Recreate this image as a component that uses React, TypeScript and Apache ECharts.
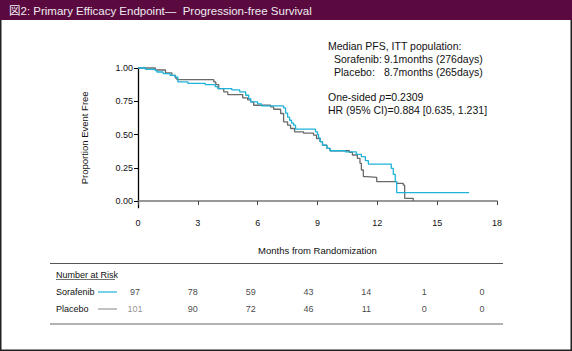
import React, { useEffect, useRef } from 'react';
import * as echarts from 'echarts';

const FONT = '"Liberation Sans", Arial, Helvetica, sans-serif';
const CJK = '"Liberation Sans", "Noto Sans CJK JP", Arial, sans-serif';

// Kaplan-Meier step points: [month, proportion event free] (value holds from that month on)
const sorafenibCurve: [number, number][] = [
  [0, 1.0], [0.37, 0.99], [0.87, 0.98], [0.95, 0.97], [1.26, 0.958], [1.6, 0.945],
  [1.85, 0.932], [2.0, 0.895], [2.5, 0.885], [3.37, 0.875], [3.87, 0.86], [4.0, 0.845],
  [4.7, 0.835], [5.1, 0.82], [5.4, 0.795], [5.55, 0.77], [5.65, 0.745], [6.0, 0.73],
  [6.2, 0.715], [7.3, 0.7], [7.4, 0.66], [7.5, 0.63], [7.6, 0.607], [7.7, 0.585],
  [7.8, 0.57], [7.9, 0.54], [8.9, 0.52], [9.0, 0.5], [9.05, 0.475], [9.13, 0.446],
  [9.25, 0.42], [9.47, 0.396], [9.63, 0.378], [10.4, 0.37], [10.95, 0.35], [11.2, 0.333],
  [11.4, 0.303], [11.55, 0.278], [12.7, 0.246], [12.8, 0.2], [12.9, 0.145], [12.97, 0.063],
  [16.6, 0.063],
];

const placeboCurve: [number, number][] = [
  [0, 1.0], [0.87, 0.985], [1.38, 0.963], [1.7, 0.945], [1.88, 0.925], [1.95, 0.912],
  [3.8, 0.895], [3.9, 0.875], [4.05, 0.845], [4.3, 0.82], [4.5, 0.8], [5.25, 0.775],
  [5.5, 0.76], [5.65, 0.745], [5.8, 0.72], [6.65, 0.707], [6.8, 0.69], [7.15, 0.658],
  [7.3, 0.595], [7.5, 0.57], [7.65, 0.545], [7.85, 0.52], [8.3, 0.51], [8.8, 0.496],
  [8.95, 0.47], [9.13, 0.446], [9.25, 0.42], [9.47, 0.396], [9.63, 0.378], [10.6, 0.366],
  [10.75, 0.346], [11.0, 0.32], [11.13, 0.283], [11.2, 0.233], [11.3, 0.183], [11.47, 0.178],
  [11.97, 0.145], [12.97, 0.133], [13.3, 0.12], [13.37, 0.02], [13.8, 0.0],
];

const yTickValues = [0, 0.25, 0.5, 0.75, 1.0];

const riskMonths = [0, 3, 6, 9, 12, 15, 18];
const riskGroups = ['Sorafenib', 'Placebo'];
const sorafenibAtRisk = [97, 78, 59, 43, 14, 1, 0];
const placeboAtRisk = [101, 90, 72, 46, 11, 0, 0];

const titleText = '図2: Primary Efficacy Endpoint—  Progression-free Survival';
const infoLines = {
  header: 'Median PFS, ITT population:',
  sorLabel: 'Sorafenib:',
  sorValue: '9.1months (276days)',
  plaLabel: 'Placebo:',
  plaValue: '8.7months (265days)',
  pValue: 'One-sided {i|p}=0.2309',
  hr: 'HR (95% CI)=0.884 [0.635, 1.231]',
};

const CYAN = '#1fb2da';
const GRAY = '#6a6a6a';

export default function App() {
  const ref = useRef<HTMLDivElement>(null);
  useEffect(() => {
    const chart = echarts.init(ref.current!, null, { renderer: 'svg' });
    const txt = (text: string, x: number, y: number, size: number, extra: any = {}) => ({
      type: 'text',
      x,
      y,
      silent: true,
      style: {
        text,
        fontSize: size,
        fontFamily: FONT,
        fill: '#111',
        align: 'left',
        verticalAlign: 'middle',
        ...extra,
      },
    });
    const atRiskData = (group: string, values: number[]) =>
      values.map((v, i) => {
        const item: any = { value: [riskMonths[i], group, v] };
        if (group === 'Placebo' && i === 0) item.label = { color: '#777' };
        return item;
      });

    const option: any = {
      animation: false,
      backgroundColor: '#fff',
      grid: [
        { left: 138, right: 75, top: 68, height: 139.65 },
        { left: 135, right: 90, top: 283.8, height: 34 },
      ],
      xAxis: [
        {
          gridIndex: 0,
          type: 'value',
          min: 0,
          max: 18,
          interval: 3,
          axisLine: { show: true, lineStyle: { color: '#777', width: 1.5 } },
          axisTick: { show: true, length: 4, lineStyle: { color: '#444', width: 1 } },
          axisLabel: { fontSize: 9, color: '#111', margin: 11, fontFamily: FONT },
          splitLine: { show: false },
          name: 'Months from Randomization',
          nameLocation: 'middle',
          nameGap: 38,
          nameTextStyle: { fontSize: 9.5, color: '#111', fontFamily: FONT },
        },
        { gridIndex: 1, type: 'value', min: 0, max: 18, show: false },
      ],
      yAxis: [
        {
          gridIndex: 0,
          type: 'value',
          min: -0.05,
          max: 1,
          axisLine: { show: true, lineStyle: { color: '#000', width: 1.3 } },
          axisTick: { show: true, length: 4, customValues: yTickValues, lineStyle: { color: '#000', width: 1 } },
          axisLabel: {
            customValues: yTickValues,
            formatter: (v: number) => v.toFixed(2),
            fontSize: 9,
            color: '#111',
            margin: 5,
            fontFamily: FONT,
          },
          splitLine: { show: false },
          name: 'Proportion Event Free',
          nameLocation: 'middle',
          nameGap: 49,
          nameTextStyle: { fontSize: 9.5, color: '#111', fontFamily: FONT },
        },
        { gridIndex: 1, type: 'category', data: riskGroups, inverse: true, show: false },
      ],
      series: [
        {
          name: 'Placebo',
          type: 'line',
          step: 'end',
          xAxisIndex: 0,
          yAxisIndex: 0,
          data: placeboCurve,
          symbol: 'none',
          clip: false,
          lineStyle: { color: GRAY, width: 1.3 },
        },
        {
          name: 'Sorafenib',
          type: 'line',
          step: 'end',
          xAxisIndex: 0,
          yAxisIndex: 0,
          data: sorafenibCurve,
          symbol: 'none',
          clip: false,
          lineStyle: { color: CYAN, width: 1.3 },
        },
        ...[
          { g: 'Sorafenib', v: sorafenibAtRisk },
          { g: 'Placebo', v: placeboAtRisk },
        ].map((r) => ({
          type: 'scatter',
          xAxisIndex: 1,
          yAxisIndex: 1,
          symbolSize: 0,
          silent: true,
          data: atRiskData(r.g, r.v),
          label: {
            show: true,
            position: 'inside',
            formatter: (p: any) => String(p.value[2]),
            fontSize: 9,
            color: '#111',
            fontFamily: FONT,
          },
        })),
      ],
      graphic: [
        { type: 'rect', silent: true, shape: { x: 0, y: 0, width: 572, height: 20 }, style: { fill: '#5b0a3f' } },
        {
          type: 'text',
          x: 9,
          y: 10.5,
          silent: true,
          style: { text: titleText, fontSize: 11.5, fontFamily: CJK, fill: '#f0eaf0', align: 'left', verticalAlign: 'middle' },
        },
        { type: 'line', silent: true, shape: { x1: 0.75, y1: 20, x2: 0.75, y2: 351 }, style: { stroke: '#222', lineWidth: 1.5 } },
        { type: 'line', silent: true, shape: { x1: 571.25, y1: 20, x2: 571.25, y2: 351 }, style: { stroke: '#222', lineWidth: 1.5 } },
        { type: 'line', silent: true, shape: { x1: 0, y1: 350.25, x2: 572, y2: 350.25 }, style: { stroke: '#222', lineWidth: 1.5 } },
        txt(infoLines.header, 328, 46, 10.5),
        txt(infoLines.sorLabel, 334, 59, 10.5),
        txt(infoLines.sorValue, 384, 59, 10.5),
        txt(infoLines.plaLabel, 334, 72, 10.5),
        txt(infoLines.plaValue, 384, 72, 10.5),
        txt(infoLines.pValue, 328, 97, 10.5, { rich: { i: { fontStyle: 'italic', fontSize: 10.5, fontFamily: FONT, fill: '#111' } } }),
        txt(infoLines.hr, 328, 110, 10.5),
        { type: 'line', silent: true, shape: { x1: 50, y1: 263.5, x2: 503, y2: 263.5 }, style: { stroke: '#555', lineWidth: 1 } },
        { type: 'line', silent: true, shape: { x1: 50, y1: 324, x2: 503, y2: 324 }, style: { stroke: '#999', lineWidth: 1.5 } },
        txt('Number at Risk', 56, 275, 9),
        { type: 'line', silent: true, shape: { x1: 56, y1: 279.5, x2: 115, y2: 279.5 }, style: { stroke: '#333', lineWidth: 0.7 } },
        txt('Sorafenib', 56, 292, 9),
        txt('Placebo', 56, 309, 9),
        { type: 'line', silent: true, shape: { x1: 98, y1: 292, x2: 117, y2: 292 }, style: { stroke: CYAN, lineWidth: 1.2 } },
        { type: 'line', silent: true, shape: { x1: 98, y1: 309, x2: 117, y2: 309 }, style: { stroke: '#999', lineWidth: 1.2 } },
      ],
    };
    chart.setOption(option);
    return () => chart.dispose();
  }, []);
  return (
    <div
      ref={ref}
      style={{ position: 'fixed', left: 0, top: 0, width: 572, height: 351, background: '#fff' }}
    />
  );
}
